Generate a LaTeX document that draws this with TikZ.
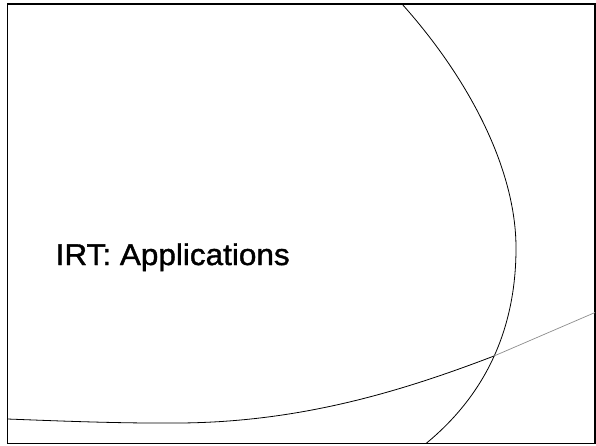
\documentclass[tikz,border=0pt]{standalone}
\usepackage{fontspec}
\setmainfont{Liberation Sans}
\newfontfamily\titlefont[FakeStretch=1.05,FakeBold=1.3]{Liberation Sans}
\begin{document}
\begin{tikzpicture}[x=1pt,y=-1pt,
  frame/.style={draw=black,line width=1.3pt},
  arc/.style={draw=black,line width=0.8pt},
  faint/.style={draw=black!45,line width=0.7pt},
  title/.style={anchor=base west,inner sep=0pt,font=\titlefont\fontsize{30}{36}\selectfont}]
\useasboundingbox (0,0) rectangle (596,445);
\draw[frame] (7.5,4) rectangle (595,443.5);
% large arc
\coordinate (top) at (402,4);
\coordinate (east) at (516,248);
\coordinate (cross) at (494,356);
\coordinate (bot) at (426,443.5);
\draw[arc] (top) .. controls (470,80) and (516,170) .. (east)
  .. controls (516,330) and (485,395) .. (bot);
% lower curve
\coordinate (lstart) at (7.5,419);
\coordinate (rend) at (595,312.5);
\draw[arc] (lstart) .. controls (60,421) and (120,423.5) .. (180,423)
  .. controls (300,422) and (400,392) .. (cross);
\draw[faint] (cross) -- (rend);
\node[title] (t) at (55.5,265) {IRT: Applications};
\end{tikzpicture}
\end{document}
